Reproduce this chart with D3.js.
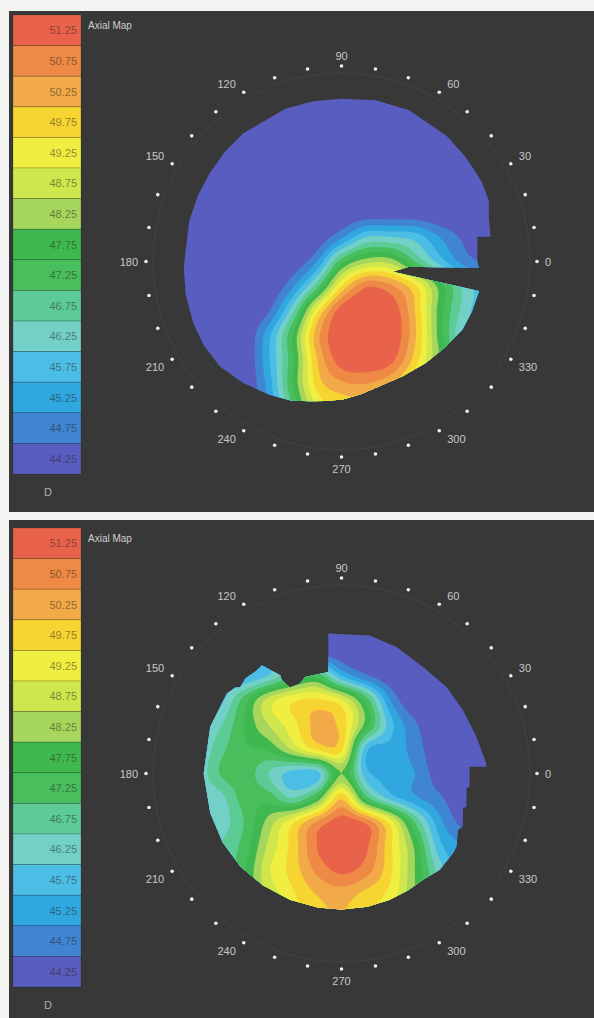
<!DOCTYPE html>
<html>
<head>
<meta charset="utf-8">
<script src="https://cdn.jsdelivr.net/npm/d3@7"></script>
<style>
body { margin: 0; background: #f3f3f1; }
svg { display: block; font-family: "Liberation Sans", Arial, sans-serif; }
</style>
</head>
<body>
<svg id="chart"></svg>
<script>
// legend bands, top to bottom (dioptres)
const bandLabels = ["51.25", "50.75", "50.25", "49.75", "49.25", "48.75", "48.25", "47.75",
    "47.25", "46.75", "46.25", "45.75", "45.25", "44.75", "44.25"];
const bandColors = ["#e9634a", "#ee8a45", "#f2aa48", "#f6d532", "#f0ee40", "#cfe64c", "#a6d65c", "#3fb94f",
    "#48bf5c", "#5dcb95", "#72d0c6", "#4cbee6", "#30a7de", "#3f85d1", "#585dbf"];
const angleTicks = [0, 30, 60, 90, 120, 150, 180, 210, 240, 270, 300, 330];
const unitLabel = "D";
const mapTitle = "Axial Map";

// sample grid, x and y in map units (ring of dots = 8), rows run from y = 7 down to y = -7
const gridSteps = [-7, -6, -5, -4, -3, -2, -1, 0, 1, 2, 3, 4, 5, 6, 7];

const topValues = [
    [44, 44, 44, 44, 44, 44, 44, 44, 44, 44, 44, 44, 44, 44, 44],
    [44, 44, 44, 44, 44, 44, 44, 44, 44, 44, 44, 44, 44, 44, 44],
    [44, 44, 44, 44, 44, 44, 44, 44, 44, 44, 44, 44, 44, 44, 44],
    [44, 44, 44, 44, 44, 44, 44, 44, 44, 44, 44, 44, 44, 44, 44],
    [44, 44, 44, 44, 44, 44, 44, 44, 44, 44, 44, 44, 44, 44, 44],
    [44, 44, 44, 44, 44, 44, 44, 44, 44.1, 44.1, 44.1, 44, 44, 44, 44],
    [44, 44, 44, 44, 44, 44, 44.1, 44.9, 46.0, 46.0, 45.8, 45.0, 44.4, 44.1, 44],
    [44, 44, 44, 44, 44, 44.1, 45.0, 47.3, 48.3, 48.3, 47.0, 45.8, 44.8, 44.4, 44.2],
    [44, 44, 44, 44, 44, 44.9, 46.8, 49.5, 50.9, 50.6, 49.6, 47.8, 46.3, 45.5, 45.0],
    [44, 44, 44, 44, 44.4, 46.3, 49.3, 51.3, 51.6, 51.4, 50.0, 47.8, 46.3, 45.5, 45.0],
    [44, 44, 44, 44, 45.3, 47.5, 50.3, 51.5, 51.7, 51.5, 50.1, 47.8, 46.0, 45.5, 45.0],
    [44, 44, 44, 44, 45.4, 47.4, 50.0, 51.3, 51.5, 51.2, 49.8, 48.0, 46.5, 45.5, 45.0],
    [44, 44, 44, 44, 45.2, 47.5, 49.7, 50.4, 50.5, 50.1, 49.0, 47.5, 46.0, 45.5, 45.0],
    [44, 44, 44, 44, 45.0, 47.0, 49.0, 49.5, 49.7, 49.4, 48.5, 47.0, 46.0, 45.5, 45.0],
    [44, 44, 44, 44, 45.0, 46.5, 48.5, 49.0, 49.2, 49.0, 48.0, 46.8, 45.8, 45.3, 45.0]
];

const bottomValues = [
    [45.5, 45.5, 45.5, 45.5, 46.0, 47.0, 44.3, 44.1, 44, 44, 44, 44, 44, 44, 44],
    [45.5, 45.5, 45.5, 45.5, 46.0, 47.0, 44.3, 44.1, 44, 44, 44, 44, 44, 44, 44],
    [45.5, 45.5, 45.5, 45.8, 46.0, 47.0, 44.5, 44.1, 44, 44, 44, 44, 44, 44, 44],
    [45.5, 45.5, 45.5, 45.5, 46.0, 47.0, 47.3, 45.5, 44.6, 44.1, 44, 44, 44, 44, 44],
    [45.5, 45.5, 45.8, 47.2, 48.7, 49.4, 49.6, 49.1, 47.3, 45.0, 44, 44, 44, 44, 44],
    [45.5, 45.8, 46.4, 47.5, 48.5, 49.3, 50.15, 49.8, 47.8, 45.7, 44.6, 44, 44, 44, 44],
    [45.5, 45.8, 46.8, 47.4, 47.6, 48.6, 49.6, 49.6, 45.7, 45.3, 44.8, 44, 44, 44, 44],
    [46, 46, 47.0, 47.3, 46.5, 45.8, 45.8, 48.0, 45.7, 45.3, 45.0, 44.2, 44, 44, 44],
    [46, 46, 46.3, 47.2, 47.3, 46.5, 47.6, 49.9, 47.2, 45.8, 45.1, 44.6, 44, 44, 44],
    [46, 46, 46.2, 47.0, 48.2, 49.4, 50.6, 51.3, 50.9, 49.3, 47.0, 45.2, 44.3, 44, 44],
    [46, 46, 46.5, 47.2, 48.6, 49.7, 51.0, 51.6, 51.1, 49.6, 47.9, 45.7, 45.0, 44.5, 44.5],
    [46, 46, 46.5, 47.4, 48.9, 49.7, 50.6, 51.1, 50.7, 49.6, 48.0, 46.3, 45.0, 44.5, 44.5],
    [46, 46, 46.5, 47.5, 48.6, 49.4, 50.0, 50.2, 49.8, 49.3, 48.0, 46.5, 45.0, 44.5, 44.5],
    [46, 46, 46.5, 47.5, 48.4, 49.2, 49.8, 50.0, 49.6, 49.0, 47.8, 46.3, 45.0, 44.5, 44.5],
    [46, 46, 46.5, 47.5, 48.4, 49.2, 49.8, 50.0, 49.6, 49.0, 47.8, 46.3, 45.0, 44.5, 44.5]
];

// measured area outline, polar (degrees, map units)
const topEdgeAngle = [357.3, 0, 10.3, 9.4, 16.9, 22.6, 30, 40.1, 50, 65.9, 78, 90, 100, 110, 127.6, 137,
    146.3, 155, 165, 182, 192, 202.6, 211, 220.7, 231, 241.6, 250, 257, 263, 270.5, 278, 285, 298, 309.7,
    320, 330.5, 339, 347.9, 348.7, 355.6, 356.8];
const topEdgeRadius = [5.63, 5.56, 5.65, 6.18, 6.30, 6.53, 6.60, 6.64, 6.70, 6.78, 6.75, 6.66, 6.66, 6.66, 6.61, 6.55,
    6.49, 6.47, 6.45, 6.46, 6.52, 6.57, 6.60, 6.58, 6.40, 6.20, 6.05, 5.87, 5.75, 5.65, 5.50, 5.36, 5.32, 5.40,
    5.50, 5.68, 5.72, 5.76, 2.13, 2.78, 4.44];

const bottomEdgeAngle = [4, 15.2, 27.5, 39.5, 52.6, 66.5, 78.4, 95.4, 97.4, 110.7, 114.7, 120.9, 122.6, 122,
    126.3, 129.3, 135.4, 139.7, 141, 145.1, 160.4, 180, 196.8, 210, 222.6, 235, 247.8, 260, 270, 281, 291,
    300, 307.5, 315.6, 324.5, 327.6, 334.2, 336.4, 344.1, 345.1, 353.3, 354.1, 3.0, 2.7];
const bottomEdgeRadius = [5.94, 5.72, 5.61, 5.57, 5.49, 5.64, 5.77, 5.75, 4.19, 4.22, 4.05, 4.10, 4.53, 4.74,
    5.50, 5.46, 5.53, 5.44, 5.59, 5.72, 5.70, 5.64, 5.61, 5.62, 5.62, 5.60, 5.58, 5.57, 5.57, 5.55, 5.53,
    5.50, 5.48, 5.63, 5.61, 5.57, 5.30, 5.42, 5.17, 5.29, 5.15, 5.27, 5.25, 5.93];

function cubic(p0, p1, p2, p3, t) {
    return p1 + 0.5 * t * (p2 - p0 + t * (2 * p0 - 5 * p1 + 4 * p2 - p3 + t * (3 * (p1 - p2) + p3 - p0)));
}

function sampleGrid(grid, gx, gy) {
    const m = grid.length, n = grid[0].length;
    const ix = Math.floor(gx), iy = Math.floor(gy);
    const tx = gx - ix, ty = gy - iy;
    const g = (i, j) => grid[Math.max(0, Math.min(m - 1, j))][Math.max(0, Math.min(n - 1, i))];
    const rows = [-1, 0, 1, 2].map(dj =>
        cubic(g(ix - 1, iy + dj), g(ix, iy + dj), g(ix + 1, iy + dj), g(ix + 2, iy + dj), tx));
    return cubic(rows[0], rows[1], rows[2], rows[3], ty);
}

class AxialMap {
    ringRadius = 195.5;
    legendBox = { x: 13, width: 68, bandHeight: 30.6 };

    constructor(svg, id, box) {
        this.svg = svg;
        this.id = id;
        this.box = box;
    }

    initialize() {
        const b = this.box;
        this.container = this.svg.append("g");
        this.r = d3.scaleLinear().domain([0, 8]).range([0, this.ringRadius]);

        this.container.append("rect")
            .attr("x", b.x).attr("y", b.y)
            .attr("width", b.width).attr("height", b.height)
            .attr("fill", "#383838");

        this.mapLayer = this.container.append("g");
        this.ring = this.container.append("g");
        this.legend = this.container.append("g");
    }

    update(values, edgeAngle, edgeRadius) {
        const b = this.box, cx = b.cx, cy = b.cy;
        const rad = a => a * Math.PI / 180;

        // outline + clip
        const edge = edgeAngle.map((a, i) => {
            const rr = this.r(edgeRadius[i]);
            return [cx + rr * Math.cos(rad(a)), cy - rr * Math.sin(rad(a))];
        });
        const outline = "M" + edge.map(p => p.join(",")).join("L") + "Z";

        this.svg.select("defs").empty() && this.svg.append("defs");
        this.svg.select("defs").append("clipPath").attr("id", "clip-" + this.id)
            .append("path").attr("d", outline);

        const colorsUp = bandColors.slice().reverse();
        const thresholds = bandLabels.slice(0, -1).map(v => +v - 0.25).reverse();

        const k = 8;
        const n = (gridSteps.length - 1) * k + 1;
        const raster = new Array(n * n);
        for (let j = 0; j < n; j++) {
            for (let i = 0; i < n; i++) {
                raster[i + j * n] = sampleGrid(values, i / k, j / k);
            }
        }
        const contours = d3.contours().size([n, n]).thresholds(thresholds)(raster);

        const unit = this.r(1);
        const step = unit / k;
        const x0 = cx + gridSteps[0] * unit;
        const y0 = cy - gridSteps[gridSteps.length - 1] * unit;
        const proj = d3.geoTransform({
            point(x, y) { this.stream.point(x0 + (x - 0.5) * step, y0 + (y - 0.5) * step); }
        });
        const path = d3.geoPath(proj);

        this.mapLayer.append("path")
            .attr("d", outline)
            .attr("fill", colorsUp[0]);

        this.mapLayer.append("g")
            .attr("clip-path", `url(#clip-${this.id})`)
            .selectAll("path")
            .data(contours)
            .join("path")
            .attr("d", path)
            .attr("fill", (d, i) => colorsUp[i + 1]);

        // angle ring
        this.ring.append("circle")
            .attr("cx", cx).attr("cy", cy)
            .attr("r", this.ringRadius - 7)
            .attr("fill", "none")
            .attr("stroke", "#434343")
            .attr("stroke-width", 1);

        this.ring.selectAll("circle.dot")
            .data(d3.range(0, 360, 10))
            .join("circle")
            .attr("class", "dot")
            .attr("cx", a => cx + this.ringRadius * Math.cos(rad(a)))
            .attr("cy", a => cy - this.ringRadius * Math.sin(rad(a)))
            .attr("r", 1.8)
            .attr("fill", "#f4eef0");

        this.ring.selectAll("text")
            .data(angleTicks)
            .join("text")
            .attr("x", a => {
                const c = Math.cos(rad(a));
                return cx + this.ringRadius * c + (Math.abs(c) < 0.1 ? 0 : Math.sign(c) * 8);
            })
            .attr("y", a => {
                const c = Math.cos(rad(a)), s = Math.sin(rad(a));
                let dy = Math.abs(c) < 0.1 ? (s > 0 ? -10 : 12) : (Math.abs(s) < 0.1 ? 0 : -Math.sign(s) * 8);
                return cy - this.ringRadius * s + dy;
            })
            .attr("text-anchor", a => {
                const c = Math.cos(rad(a));
                return Math.abs(c) < 0.1 ? "middle" : (c > 0 ? "start" : "end");
            })
            .attr("dominant-baseline", "central")
            .attr("font-size", 11)
            .attr("fill", "#c8c8c8")
            .text(a => a);

        // legend
        const lb = this.legendBox;
        const bandY = d3.scaleBand().domain(bandLabels)
            .range([b.legendTop, b.legendTop + lb.bandHeight * bandLabels.length]);

        this.legend.selectAll("rect")
            .data(bandLabels)
            .join("rect")
            .attr("x", lb.x)
            .attr("y", d => bandY(d))
            .attr("width", lb.width)
            .attr("height", bandY.bandwidth())
            .attr("fill", (d, i) => bandColors[i])
            .attr("stroke", "rgba(0,0,0,0.22)")
            .attr("stroke-width", 0.8);

        this.legend.selectAll("text.band")
            .data(bandLabels)
            .join("text")
            .attr("class", "band")
            .attr("x", lb.x + lb.width - 4)
            .attr("y", d => bandY(d) + bandY.bandwidth() / 2)
            .attr("text-anchor", "end")
            .attr("dominant-baseline", "central")
            .attr("font-size", 11)
            .attr("fill", "rgba(40,30,30,0.5)")
            .text(d => d);

        this.legend.append("text")
            .attr("x", lb.x + 35)
            .attr("y", b.legendTop + lb.bandHeight * bandLabels.length + 18)
            .attr("text-anchor", "middle")
            .attr("dominant-baseline", "central")
            .attr("font-size", 11)
            .attr("fill", "#b0b0b0")
            .text(unitLabel);

        this.legend.append("text")
            .attr("x", 88)
            .attr("y", b.legendTop + 10)
            .attr("dominant-baseline", "central")
            .attr("font-size", 10)
            .attr("fill", "#cfcfcf")
            .text(mapTitle);
    }
}

const svg = d3.select("#chart").attr("width", 594).attr("height", 1018);

const topMap = new AxialMap(svg, "top",
    { x: 9, y: 11, width: 585, height: 501, legendTop: 15, cx: 341.5, cy: 261.5 });
topMap.initialize();
topMap.update(topValues, topEdgeAngle, topEdgeRadius);

const bottomMap = new AxialMap(svg, "bottom",
    { x: 9, y: 520, width: 585, height: 498, legendTop: 528, cx: 341.5, cy: 773.5 });
bottomMap.initialize();
bottomMap.update(bottomValues, bottomEdgeAngle, bottomEdgeRadius);
</script>
</body>
</html>
